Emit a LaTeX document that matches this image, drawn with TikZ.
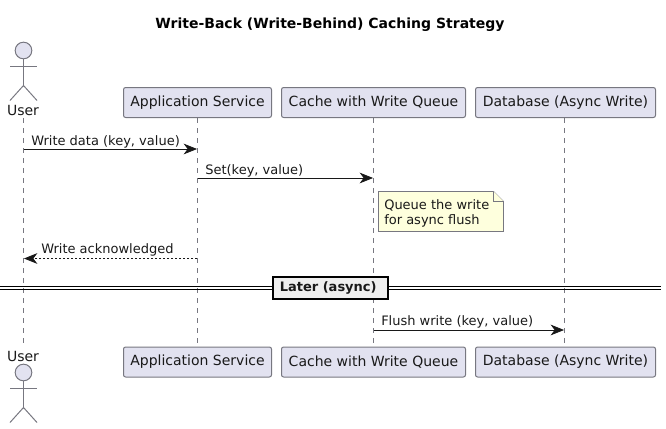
\documentclass[tikz,border=0pt]{standalone}
\usepackage{fontspec}
\setmainfont{DejaVu Sans}
\usetikzlibrary{arrows.meta}
\definecolor{actfill}{HTML}{E2E2F0}
\definecolor{actline}{HTML}{181818}
\definecolor{boxline}{HTML}{777780}
\definecolor{notefill}{HTML}{FEFFDD}
\definecolor{divfill}{HTML}{EEEEEE}
\tikzset{
  x=0.75pt,y=-0.75pt,
  lbl/.style={font=\fontsize{9.75pt}{11.6pt}\selectfont,text=black!90,inner sep=0pt},
  actlbl/.style={font=\fontsize{10.5pt}{12pt}\selectfont,text=black!90,inner sep=0pt},
  title/.style={font=\fontsize{10.5pt}{12pt}\selectfont\bfseries,text=black,inner sep=0pt},
  partbox/.style={draw=boxline,fill=actfill,line width=0.75pt,rounded corners=1.6pt,minimum height=22.5pt,inner sep=0pt,font=\fontsize{10.5pt}{12pt}\selectfont,text=black!90},
  lifeline/.style={draw=boxline,line width=0.6pt,dash pattern=on 3.75pt off 3.75pt},
  msg/.style={draw=actline,line width=0.55pt,-{Stealth[length=10pt,width=8pt,inset=3pt,fill=actline]}},
  ret/.style={msg,dash pattern=on 1.5pt off 1.5pt},
  stick/.style={draw=boxline,line width=0.75pt},
  head/.style={circle,draw=boxline,fill=actfill,line width=0.75pt,minimum size=12.5pt,inner sep=0pt},
  divline/.style={draw=black,line width=1pt},
  notebody/.style={draw=boxline,fill=notefill,line width=0.6pt},
  divbox/.style={draw=black,fill=divfill,line width=1.5pt,minimum width=86pt,minimum height=17pt,inner sep=0pt},
}
\begin{document}
\begin{tikzpicture}
\useasboundingbox (0,0) rectangle (666,428);
\node[title] (ttl) at (330,24.5) {Write-Back (Write-Behind) Caching Strategy};
% top participants
\node[head] (uh) at (23.5,50.5) {};
\node[partbox,minimum width=111pt] (a) at (197.5,102.5) {Application Service};
\node[partbox,minimum width=138pt] (c) at (373.5,102.5) {Cache with Write Queue};
\node[partbox,minimum width=135pt] (d) at (565.5,102.5) {Database (Async Write)};
\node[actlbl] (ut) at (23,110) {User};
% bottom participants
\node[partbox,minimum width=111pt] (a2) at (197.5,362) {Application Service};
\node[partbox,minimum width=138pt] (c2) at (373.5,362) {Cache with Write Queue};
\node[partbox,minimum width=135pt] (d2) at (565.5,362) {Database (Async Write)};
\node[actlbl] (ub) at (23,356) {User};
\node[head] (uh2) at (23.5,372.5) {};
% lifeline ends
\coordinate (ut0) at (23.5,118);
\coordinate (ub0) at (23.5,343);
\coordinate (at0) at (197.5,118);
\coordinate (ct0) at (373.5,118);
\coordinate (dt0) at (564.5,118);
\coordinate (ab0) at (197.5,346);
\coordinate (cb0) at (373.5,346);
\coordinate (db0) at (564.5,346);
\draw[lifeline] (ut0) -- (ub0);
\draw[lifeline] (at0) -- (ab0);
\draw[lifeline] (ct0) -- (cb0);
\draw[lifeline] (dt0) -- (db0);
% actors
\coordinate (uhip) at (23.5,85.5);
\draw[stick] (uh.south) -- (uhip);
\draw[stick] (10,66) -- (37,66);
\draw[stick] (10,100.5) -- (uhip) -- (37,100.5);
\coordinate (uhip2) at (23.5,407.5);
\draw[stick] (uh2.south) -- (uhip2);
\draw[stick] (10,388) -- (37,388);
\draw[stick] (10,422.5) -- (uhip2) -- (37,422.5);
% messages
\coordinate (m1a) at (23.5,149); \coordinate (m1b) at (197,149);
\coordinate (m2a) at (197.5,178); \coordinate (m2b) at (373,178);
\coordinate (m3a) at (197,258.5); \coordinate (m3b) at (24,258.5);
\coordinate (m4a) at (373.5,330); \coordinate (m4b) at (564,330);
\draw[msg] (m1a) -- (m1b);
\draw[msg] (m2a) -- (m2b);
\draw[ret] (m3a) -- (m3b);
\draw[msg] (m4a) -- (m4b);
\node[lbl,anchor=base west] (l1) at (31,145) {Write data (key, value)};
\node[lbl,anchor=base west] (l2) at (205,174) {Set(key, value)};
\node[lbl,anchor=base west] (l3) at (41,253) {Write acknowledged};
\node[lbl,anchor=base west] (l4) at (381,325) {Flush write (key, value)};
% note
\draw[notebody] (378.5,191.5) -- (493.5,191.5) -- (503.5,201.5) -- (503.5,231.5) -- (378.5,231.5) -- cycle;
\draw[notebody] (493.5,191.5) -- (493.5,201.5) -- (503.5,201.5);
\node[lbl,anchor=base west] (n1) at (384,209.5) {Queue the write};
\node[lbl,anchor=base west] (n2) at (384,224.5) {for async flush};
% divider
\draw[divline] (0,286.5) -- (661,286.5);
\draw[divline] (0,289.5) -- (661,289.5);
\node[divbox] (div) at (330.5,288) {};
\node[lbl,font=\fontsize{9.75pt}{11.6pt}\selectfont\bfseries,anchor=west] (divt) at (279.5,287.5) {Later (async)};
\end{tikzpicture}
\end{document}
